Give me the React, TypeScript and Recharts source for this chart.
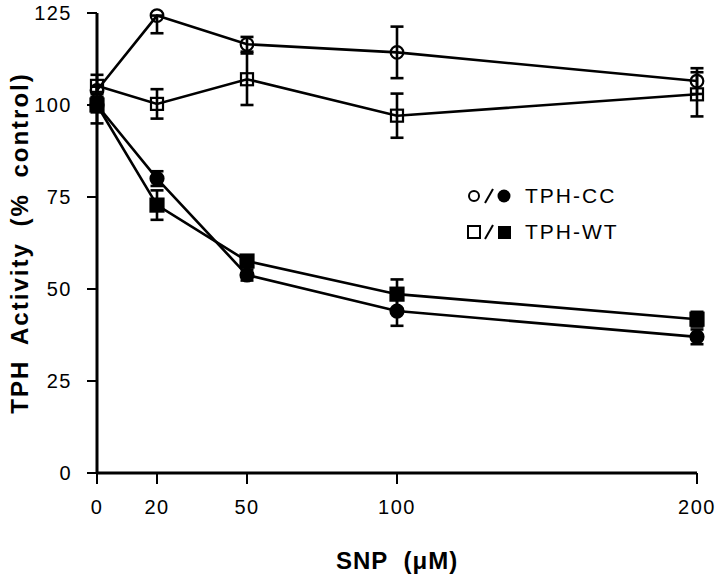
import { ErrorBar, Line, LineChart, XAxis, YAxis } from 'recharts';

const FONT = '"Liberation Sans", Arial, Helvetica, sans-serif';

const doses = [0, 20, 50, 100, 200];
const yTicks = [0, 25, 50, 75, 100, 125];

// open symbols / filled symbols, mean and [down, up] error
const ccOpen = [104, 124.3, 116.5, 114.3, 106.5];
const ccOpenErr = [[1, 1], [4.8, 0], [2, 2], [7, 7], [3.5, 3.5]];
const wtOpen = [105.2, 100.3, 107, 97.1, 102.9];
const wtOpenErr = [[3, 3], [4, 4], [7, 7], [6, 6], [6, 6]];
const ccFilled = [100, 80, 53.8, 44, 37];
const ccFilledErr = [[2, 2], [2, 2], [1.5, 1.5], [4, 4], [2, 2]];
const wtFilled = [100, 72.8, 57.6, 48.6, 41.8];
const wtFilledErr = [[5, 5], [4, 4], [1.5, 1.5], [4, 4], [2, 2]];

const data = doses.map((dose, i) => ({
  dose,
  ccOpen: ccOpen[i],
  ccOpenErr: ccOpenErr[i],
  wtOpen: wtOpen[i],
  wtOpenErr: wtOpenErr[i],
  ccFilled: ccFilled[i],
  ccFilledErr: ccFilledErr[i],
  wtFilled: wtFilled[i],
  wtFilledErr: wtFilledErr[i],
}));

const circleDot = (filled: boolean) => (p: any) => (
  <circle key={`c-${filled}-${p.index}`} cx={p.cx} cy={p.cy} r={filled ? 6.5 : 6.3}
    fill={filled ? '#000' : 'none'} stroke="#000" strokeWidth={2.2} />
);

const squareDot = (filled: boolean) => (p: any) => {
  const s = filled ? 13 : 12;
  return (
    <rect key={`s-${filled}-${p.index}`} x={p.cx - s / 2} y={p.cy - s / 2} width={s} height={s}
      fill={filled ? '#000' : 'none'} stroke="#000" strokeWidth={2.2} />
  );
};

const YTitle = ({ viewBox }: any) => {
  const x = 19;
  const y = viewBox.y + viewBox.height / 2;
  return (
    <text x={x} y={y} transform={`rotate(-90 ${x} ${y})`} textAnchor="middle" dominantBaseline="central"
      fontFamily={FONT} fontWeight="bold" fontSize={24} letterSpacing={2} wordSpacing={7} fill="#000">
      TPH Activity (% control)
    </text>
  );
};

const XTitle = ({ viewBox }: any) => {
  const x = viewBox.x + viewBox.width / 2;
  const y = 560;
  return (
    <text x={x} y={y} textAnchor="middle" dominantBaseline="central"
      fontFamily={FONT} fontWeight="bold" fontSize={24} letterSpacing={1} wordSpacing={8} fill="#000">
      SNP (μM)
    </text>
  );
};

const legendRows = [
  { label: 'TPH-CC', shape: 'circle' },
  { label: 'TPH-WT', shape: 'square' },
];

const Legend = () => (
  <div style={{ position: 'absolute', left: 466, top: 178, fontFamily: FONT, fontSize: 21, letterSpacing: 2 }}>
    {legendRows.map((row) => (
      <div key={row.label} style={{ display: 'flex', alignItems: 'center', height: 36 }}>
        <svg width={50} height={20}>
          {row.shape === 'circle' ? (
            <>
              <circle cx={8} cy={10} r={5} fill="none" stroke="#000" strokeWidth={2} />
              <circle cx={38} cy={10} r={6.5} fill="#000" />
            </>
          ) : (
            <>
              <rect x={2} y={4} width={12} height={12} fill="none" stroke="#000" strokeWidth={2} />
              <rect x={32} y={4} width={13} height={13} fill="#000" />
            </>
          )}
          <line x1={19} y1={17} x2={27} y2={3} stroke="#000" strokeWidth={2} />
        </svg>
        <span style={{ marginLeft: 9 }}>{row.label}</span>
      </div>
    ))}
  </div>
);

const axisLine = { stroke: '#000', strokeWidth: 3 };
const tickLine = { stroke: '#000', strokeWidth: 2 };
const tickStyle = { fill: '#000', fontSize: 20, fontFamily: FONT, letterSpacing: 1.5 };

export default function App() {
  return (
    <div style={{ position: 'absolute', left: 0, top: 0, width: 720, height: 577, background: '#fff' }}>
      <LineChart width={720} height={577} data={data} margin={{ top: 13, right: 23, bottom: 0, left: 0 }}>
        <XAxis dataKey="dose" type="number" domain={[0, 200]} ticks={doses} interval={0}
          axisLine={axisLine} tickLine={tickLine} tickSize={11} tickMargin={16} tick={tickStyle}
          height={104} label={<XTitle />} />
        <YAxis type="number" domain={[0, 125]} ticks={yTicks} interval={0}
          axisLine={axisLine} tickLine={tickLine} tickSize={10} tickMargin={15} tick={tickStyle}
          width={97} label={<YTitle />} />
        <Line dataKey="wtOpen" stroke="#000" strokeWidth={2.6} dot={squareDot(false)} activeDot={false} isAnimationActive={false}>
          <ErrorBar dataKey="wtOpenErr" direction="y" width={6.5} stroke="#000" strokeWidth={2.6} />
        </Line>
        <Line dataKey="ccOpen" stroke="#000" strokeWidth={2.6} dot={circleDot(false)} activeDot={false} isAnimationActive={false}>
          <ErrorBar dataKey="ccOpenErr" direction="y" width={6.5} stroke="#000" strokeWidth={2.6} />
        </Line>
        <Line dataKey="wtFilled" stroke="#000" strokeWidth={2.6} dot={squareDot(true)} activeDot={false} isAnimationActive={false}>
          <ErrorBar dataKey="wtFilledErr" direction="y" width={6.5} stroke="#000" strokeWidth={2.6} />
        </Line>
        <Line dataKey="ccFilled" stroke="#000" strokeWidth={2.6} dot={circleDot(true)} activeDot={false} isAnimationActive={false}>
          <ErrorBar dataKey="ccFilledErr" direction="y" width={6.5} stroke="#000" strokeWidth={2.6} />
        </Line>
      </LineChart>
      <Legend />
    </div>
  );
}
